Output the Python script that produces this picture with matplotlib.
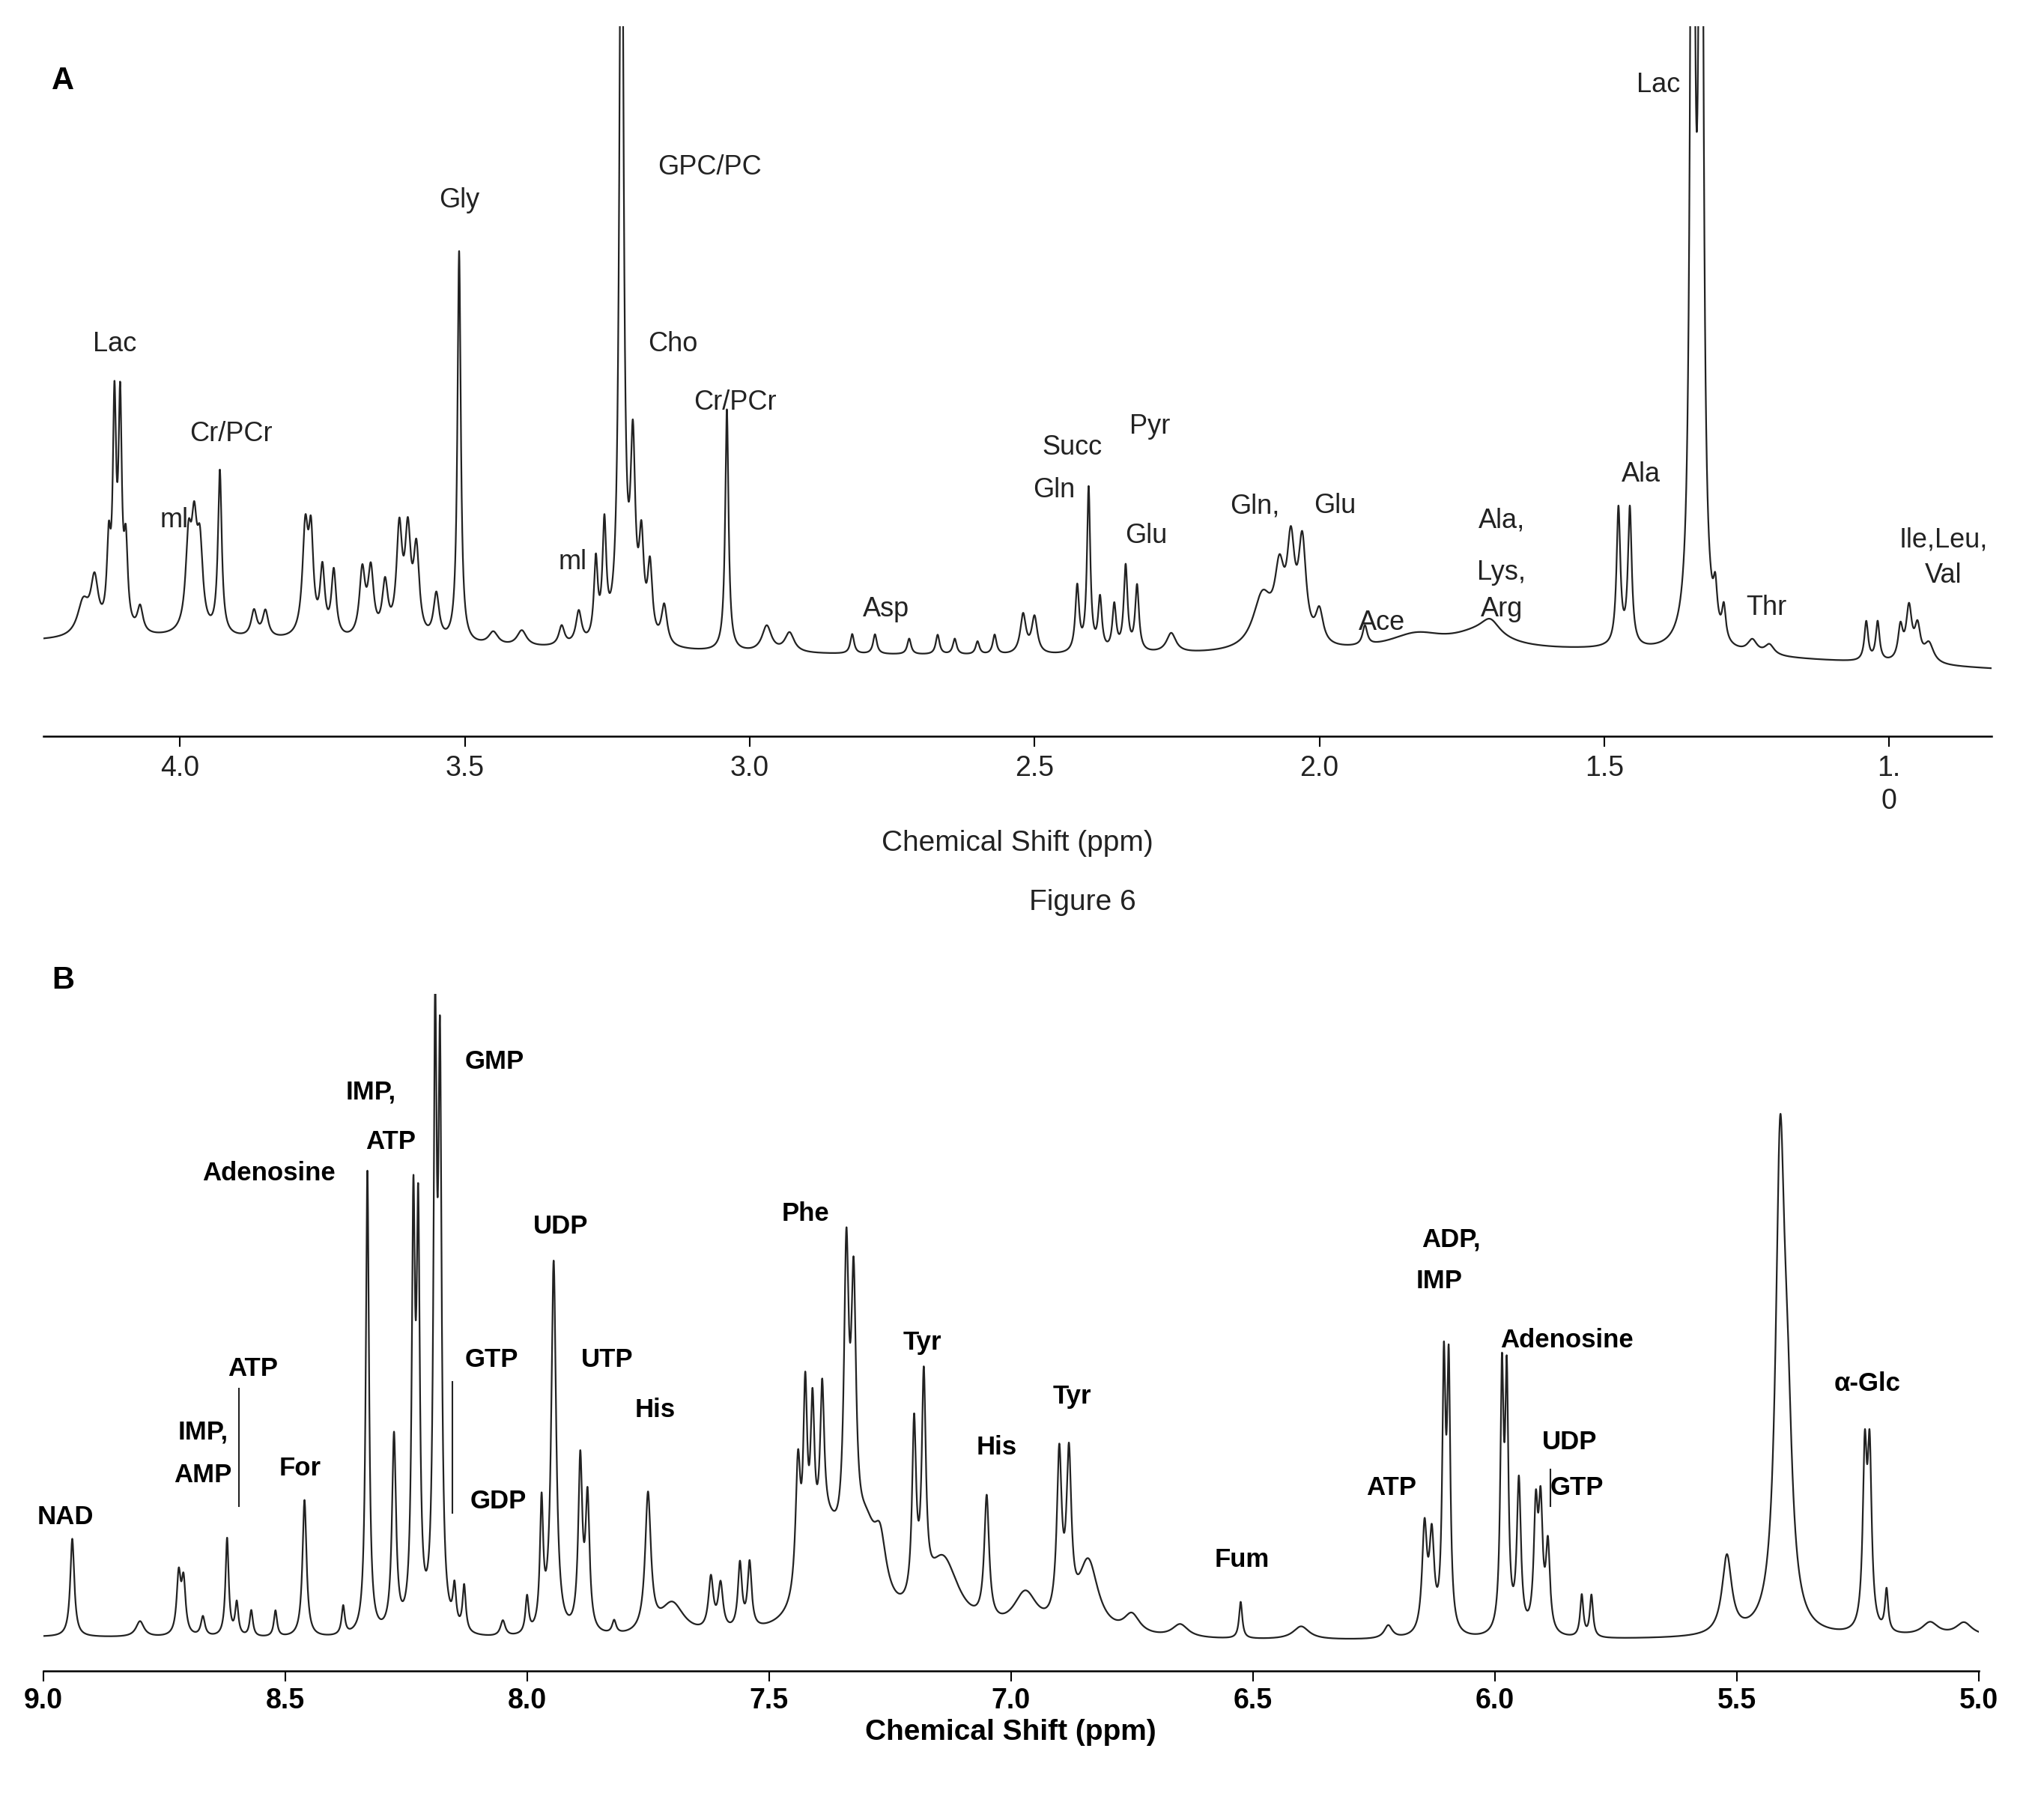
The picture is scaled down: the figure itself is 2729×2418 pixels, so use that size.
import numpy as np
import matplotlib
matplotlib.use("Agg")
import matplotlib.pyplot as plt

plt.rcParams['font.family'] = ['Liberation Sans', 'DejaVu Sans']

# ---------------- Panel A data: peaks (ppm, height, half-width) ----------------
a_ppm = [4.17,4.15,4.125,4.115,4.105,4.095,4.07,3.985,3.975,3.965,3.93,3.87,3.85,3.78,3.77,3.75,3.73,3.68,3.665,3.64,3.615,3.60,3.585,3.55,3.51,
         3.45,3.40,3.33,3.30,3.27,3.255,3.225,3.205,3.19,3.175,3.15,3.04,2.97,2.93,2.82,2.78,2.72,2.67,2.64,2.60,2.57,2.52,2.50,
         2.425,2.405,2.385,2.36,2.34,2.32,2.26,2.10,2.07,2.05,2.03,2.00,1.92,1.83,1.72,1.70,1.475,1.455,1.345,1.33,1.305,1.29,1.24,
         1.21,1.04,1.02,0.98,0.965,0.95,0.93]
a_h   = [25,40,60,165,165,60,20,65,70,60,125,20,20,80,70,50,50,50,50,40,80,75,65,35,300,
         10,12,15,25,60,85,700,140,70,55,30,185,20,15,15,15,12,15,12,10,15,30,28,
         50,125,40,35,65,50,15,40,50,70,75,25,15,12,12,12,105,105,900,900,30,25,10,
         8,30,30,25,40,25,15]
a_w   = [0.012,0.008,0.004,0.0035,0.0035,0.004,0.006,0.006,0.006,0.006,0.004,0.006,0.006,0.006,0.005,0.005,0.005,0.006,0.006,0.006,0.006,0.006,0.006,0.006,0.0035,
         0.01,0.01,0.006,0.006,0.004,0.004,0.004,0.005,0.005,0.005,0.006,0.0035,0.01,0.01,0.004,0.004,0.004,0.004,0.004,0.004,0.004,0.006,0.006,
         0.004,0.0035,0.004,0.004,0.004,0.004,0.01,0.02,0.01,0.008,0.008,0.008,0.005,0.06,0.06,0.02,0.004,0.004,0.004,0.004,0.004,0.004,0.01,
         0.01,0.004,0.004,0.005,0.006,0.006,0.01]
a_base_x = [4.25, 4.0, 3.5, 3.0, 2.5, 2.0, 1.5, 1.0, 0.8]
a_base_y = [10, 12, 5, 0, -2, 0, 2, -8, -12]

a_labels = [("Lac",4.114,237),("Cr/PCr",3.91,168),("ml",4.01,102),("Gly",3.51,347),("ml",3.31,70),
            ("GPC/PC",3.07,372),("Cho",3.135,237),("Cr/PCr",3.025,192),("Asp",2.76,34),("Succ",2.434,158),
            ("Gln",2.466,125),("Pyr",2.297,174),("Glu",2.304,90),("Gln,",2.113,113),("Glu",1.973,113),
            ("Ace",1.89,24),("Ala,",1.68,102),("Lys,",1.68,62),("Arg",1.68,34),("Ala",1.436,137),
            ("Lac",1.405,435),("Thr",1.215,35),("Ile,Leu,",0.905,87),("Val",0.905,60)]
a_ticks = [4.0,3.5,3.0,2.5,2.0,1.5,1.0]
a_ticklabels = ["4.0","3.5","3.0","2.5","2.0","1.5","1.\n0"]

# ---------------- Panel B data ----------------
b_ppm = [8.94,8.80,8.72,8.71,8.67,8.62,8.60,8.57,8.52,8.46,8.38,8.33,8.275,8.235,8.225,8.19,8.18,8.15,8.13,8.05,8.00,7.97,7.945,7.89,7.875,7.82,7.75,7.70,
         7.62,7.60,7.56,7.54,7.44,7.425,7.41,7.39,7.38,7.34,7.325,7.30,7.27,7.20,7.18,7.14,7.05,6.97,6.90,6.88,6.84,6.75,6.65,6.525,6.40,6.22,
         6.145,6.13,6.105,6.095,5.985,5.975,5.95,5.915,5.905,5.89,5.82,5.80,5.52,5.41,5.395,5.235,5.225,5.19,5.10,5.03]
b_h   = [75,12,45,40,15,75,25,20,20,105,22,355,150,305,295,440,410,30,35,12,28,95,285,130,100,10,105,25,
         40,35,50,50,100,140,115,110,70,225,195,60,40,135,165,55,95,30,125,120,55,15,10,28,10,10,
         80,70,195,195,190,185,115,90,90,65,32,32,60,350,125,130,130,32,10,10]
b_w   = [0.005,0.01,0.005,0.005,0.005,0.004,0.004,0.004,0.004,0.005,0.004,0.004,0.005,0.004,0.004,0.004,0.004,0.004,0.004,0.006,0.004,0.004,0.006,0.005,0.005,0.005,0.007,0.03,
         0.006,0.006,0.005,0.005,0.006,0.005,0.005,0.005,0.04,0.006,0.006,0.03,0.015,0.005,0.005,0.04,0.006,0.03,0.006,0.006,0.025,0.02,0.02,0.004,0.02,0.01,
         0.006,0.006,0.004,0.004,0.004,0.004,0.005,0.005,0.005,0.005,0.004,0.004,0.012,0.011,0.012,0.005,0.005,0.004,0.02,0.02]
b_base_x = [9.0, 8.0, 7.0, 6.0, 5.0]
b_base_y = [0, -3, -3, -3, 0]

b_labels = [("NAD",8.954,92),("IMP,",8.67,157),("AMP",8.67,124),("ATP",8.567,205),("For",8.469,129),
            ("Adenosine",8.534,355),("IMP,",8.323,417),("ATP",8.282,379),("GMP",8.068,440),("GTP",8.074,212),
            ("GDP",8.06,104),("UDP",7.93,314),("UTP",7.835,212),("His",7.735,174),("Phe",7.424,324),
            ("Tyr",7.183,225),("His",7.03,145),("Tyr",6.874,184),("Fum",6.522,59),("ATP",6.213,114),
            ("ADP,",6.09,304),("IMP",6.115,272),("Adenosine",5.85,227),("UDP",5.845,149),("GTP",5.83,114),
            ("α-Glc",5.23,194)]
b_ticks = [9.0,8.5,8.0,7.5,7.0,6.5,6.0,5.5,5.0]

def spectrum(x, ppm, h, w, bx, by):
    y = np.interp(x, bx[::-1], by[::-1])
    for p, hh, ww in zip(ppm, h, w):
        y = y + hh * ww**2 / ((x - p)**2 + ww**2)
    return y

W, H = 2729, 2418
fig = plt.figure(figsize=(W/100, H/100), dpi=100)
sx = 1/1560; sy = 1/1385

# Panel A
axA = fig.add_axes([33*sx, 1-563*sy, 1487*sx, 543*sy])
xa = np.linspace(4.25, 0.82, 20000)
axA.plot(xa, spectrum(xa, a_ppm, a_h, a_w, a_base_x, a_base_y), color="#222", lw=1.6)
axA.set_xlim(4.24, 0.82); axA.set_ylim(-63, 480)
for s in ["top","left","right"]: axA.spines[s].set_visible(False)
axA.spines["bottom"].set_linewidth(1.8)
axA.set_yticks([])
axA.set_xticks(a_ticks); axA.set_xticklabels(a_ticklabels, fontsize=27, color="#222", linespacing=1.3)
axA.tick_params(axis="x", length=10, width=1.5, direction="out", pad=8)
axA.set_xlabel("Chemical Shift (ppm)", fontsize=28, color="#222", labelpad=14)
for t, x, y in a_labels:
    axA.text(x, y, t, fontsize=26, ha="center", va="center", color="#222")
fig.text(826*sx, 1-690*sy, "Figure 6", fontsize=28, ha="center", va="center", color="#222")
fig.text(48*sx, 1-62*sy, "A", fontsize=30, weight="bold", ha="center", va="center")
fig.text(48*sx, 1-750*sy, "B", fontsize=30, weight="bold", ha="center", va="center")

# Panel B
axB = fig.add_axes([33*sx, 1-1278*sy, 1477*sx, 518*sy])
xb = np.linspace(9.0, 5.0, 20000)
axB.plot(xb, spectrum(xb, b_ppm, b_h, b_w, b_base_x, b_base_y), color="#222", lw=1.6)
axB.set_xlim(9.0, 5.0); axB.set_ylim(-26, 492)
for s in ["top","left","right"]: axB.spines[s].set_visible(False)
axB.spines["bottom"].set_linewidth(1.8)
axB.set_yticks([])
axB.set_xticks(b_ticks); axB.set_xticklabels([f"{v:.1f}" for v in b_ticks], fontsize=27, weight="bold")
axB.tick_params(axis="x", length=10, width=1.5, direction="out", pad=6)
axB.set_xlabel("Chemical Shift (ppm)", fontsize=28, weight="bold", labelpad=4)
for t, x, y in b_labels:
    axB.text(x, y, t, fontsize=25, weight="bold", ha="center", va="center")
axB.plot([8.595, 8.595], [100, 190], color="#222", lw=1.5)
axB.plot([8.155, 8.155], [95, 195], color="#222", lw=1.5)
axB.plot([5.885, 5.885], [100, 128], color="#222", lw=1.5)

fig.savefig("out.png", dpi=100, facecolor="white")
